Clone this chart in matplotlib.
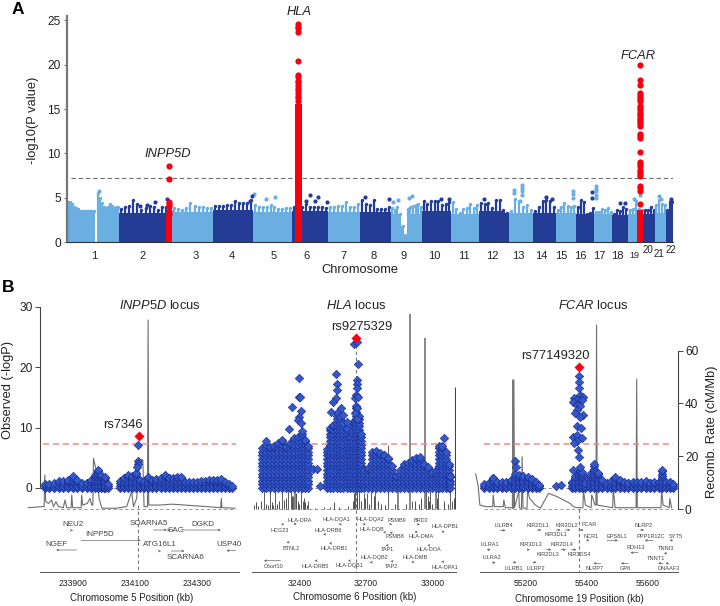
#!/usr/bin/env python3

import matplotlib
matplotlib.use('Agg')
import matplotlib.pyplot as plt
import numpy as np
from matplotlib.transforms import Affine2D, blended_transform_factory

plt.rcParams['font.family'] = ['Liberation Sans', 'DejaVu Sans']
plt.rcParams['mathtext.fontset'] = 'custom'
plt.rcParams['mathtext.rm'] = 'Liberation Sans'
plt.rcParams['mathtext.it'] = 'Liberation Sans:italic'

W, H = 720, 606

LIGHT = '#6aaee2'
DARK = '#233c96'
RED = '#f5000f'
DIAMOND = '#3358c8'
DIAMOND_EDGE = '#16248a'
GREY = '#6e6e6e'
TEXT = '#222222'

# panel A, x in scaled genome units
chrom_edges = [0, 52, 105, 146, 186, 225, 261, 293, 324, 355, 384, 412, 442, 466, 489, 509, 527, 545, 561, 576, 588, 599, 606]
chrom_ticks = [27, 76, 129, 165, 207, 240, 276, 307, 337, 367, 397, 425, 451, 474, 494, 513, 532, 550, 567, 581, 592, 604]
chrom_names = [str(i) for i in range(1, 23)]
chrom_base = [3.4, 3.3, 3.4, 3.6, 3.4, 3.5, 3.4, 3.4, 3.2, 3.5, 3.2, 3.5, 3.3, 3.3, 3.3, 3.2, 3.2, 3.1, 3.2, 3.2, 3.3, 3.4]
chrom_tops = [
    [4.5, 4.5, 4.3, 4.0, 3.8, 3.7, 3.5, 3.5, 3.5, 3.5, 3.5, 3.5, 3.5, 3.5, 0.0, 5.5, 5.0, 4.4, 3.9, 3.8, 3.9, 4.3, 4.1, 3.8, 3.9, 3.9],
    [3.7, 3.9, 4.1, 4.7, 4.3, 3.6, 3.8, 4.1, 3.9, 3.6, 3.9, 4.0, 3.9],
    [3.8, 3.7, 3.6, 3.8, 4.4, 4.1, 4.0, 3.9, 3.8, 3.8],
    [4.1, 4.1, 4.1, 4.2, 4.2, 4.6, 4.4, 4.4, 4.4, 4.7],
    [4.2, 4.0, 4.0, 3.9, 4.2, 3.9, 3.7, 3.7, 3.8, 3.8],
    [4.0, 4.0, 4.0, 4.3, 3.9, 3.9, 4.0, 4.0, 3.8],
    [3.9, 4.0, 4.1, 4.1, 4.5, 4.0, 4.0, 4.3],
    [4.7, 4.3, 4.2, 4.7, 3.7, 3.7, 3.7, 3.9],
    [3.8, 3.6, 3.9, 3.2, 1.8, 0.8, 3.7, 4.0, 4.1, 4.2, 4.3, 3.9],
    [4.6, 4.3, 4.6, 4.6, 4.6, 4.2, 4.3, 4.5],
    [4.5, 3.7, 3.3, 3.7, 3.8, 4.3, 3.8, 4.2],
    [4.4, 4.3, 4.4, 3.8, 4.7, 4.7, 3.6, 3.3],
    [3.5, 4.9, 4.6, 3.9, 4.2, 3.6],
    [3.5, 4.0, 4.6, 4.7, 4.6, 3.9],
    [3.6, 4.0, 4.4, 4.1, 3.9, 4.1],
    [4.0, 4.7, 4.5, 3.2, 3.3, 3.8],
    [3.4, 3.4, 3.7, 3.6, 3.8, 3.4],
    [3.2, 3.6, 3.5, 4.0, 3.7],
    [3.6, 3.7, 4.6, 3.7, 3.6],
    [3.6, 3.6, 3.9, 3.6],
    [4.2, 4.7, 4.3, 4.2],
    [3.6, 4.5, 4.5],
]
light_hits_x = [32, 187, 199, 208, 447, 447, 455, 455, 455, 455, 453, 506, 506, 506, 529, 529, 529, 529, 529, 345, 342, 331, 326, 567, 573, 592, 594]
light_hits_y = [5.8, 5.4, 4.9, 5.05, 5.9, 5.5, 6.4, 6.1, 5.7, 5.35, 4.6, 5.8, 5.4, 5.0, 6.3, 6.0, 5.75, 5.35, 5.0, 5.15, 4.95, 4.7, 4.5, 4.9, 5.3, 5.15, 4.8]
dark_hits_x = [100, 88, 73, 80, 185, 183, 243, 251, 248, 239, 260, 322, 298, 374, 382, 417, 479, 485, 525, 525, 558, 553, 604, 604]
dark_hits_y = [4.85, 4.5, 4.1, 4.2, 5.15, 4.6, 5.35, 5.05, 4.65, 4.6, 4.5, 4.9, 5.05, 4.9, 4.85, 4.85, 5.05, 4.9, 5.6, 4.95, 4.4, 4.4, 4.8, 4.6]

peak_x = [102, 231.3, 572.7]
peak_core = [3.0, 15.6, 3.65]
peak_width = [6.5, 6.5, 6.0]
peak_dots = [
    [8.55, 7.1, 4.5, 4.3, 4.1, 3.5, 3.2],
    [24.6, 24.3, 24.1, 23.7, 20.4, 18.8, 18.6, 18.2, 18.0, 17.7, 17.4, 17.1, 16.8, 16.5, 16.2, 15.9],
    [20.0, 18.3, 17.7, 16.8, 16.6, 16.35, 16.1, 15.9, 15.3, 15.1, 14.85, 14.6, 14.4, 14.2, 14.0, 13.8, 13.55, 13.3, 13.05,
     12.2, 12.0, 11.75, 10.2, 9.0, 8.8, 8.55, 8.1, 7.9, 7.65, 7.4, 6.3, 6.05, 5.8, 4.3],
]

# panel B, INPP5D locus
inpp_x = [233810, 233825, 233840, 233855, 233870, 233885, 233900, 233915, 233930, 233945, 233960, 233972, 233981, 233990,
          234000, 234005, 234013, 234053, 234066, 234079, 234092, 234105, 234118, 234131, 234144, 234157, 234170, 234183,
          234196, 234209, 234222, 234235, 234248, 234261, 234274, 234287, 234300, 234313, 234326, 234339, 234352, 234365,
          234378, 234391, 234404, 234415]
inpp_top = [0.7, 0.6, 0.8, 1.2, 1.1, 1.3, 2.0, 1.3, 0.8, 0.9, 1.3, 2.1, 2.9, 2.2, 1.3, 1.8, 0.7, 1.2, 1.7, 2.2, 2.0, 2.5, 1.3,
            1.2, 1.9, 1.3, 1.5, 1.6, 2.2, 1.7, 1.6, 1.9, 1.9, 1.0, 1.0, 1.0, 1.0, 1.1, 1.1, 1.3, 1.3, 1.4, 1.5, 1.0, 0.6, 0.4]
inpp_peak_x = [234112, 234110, 234112, 234108]
inpp_peak_y = [7.1, 4.4, 3.9, 3.4]
inpp_rate_x = [233757, 233803, 233808, 233810, 233813, 233822, 233832, 233838, 233846, 233854, 233870, 233875, 233881, 233895, 233897,
               233900, 233927, 233929, 233932, 233947, 233956, 233961, 233965, 233967, 233977, 233985, 233994, 234042, 234074, 234090,
               234096, 234106, 234117, 234126, 234130, 234141, 234143, 234145, 234182, 234214, 234225, 234332, 234377, 234379, 234381, 234423]
inpp_rate = [0.5, 0.9, 0.9, 12.9, 2.8, 2.1, 3.4, 0.9, 2.8, 0.9, 0.5, 3.4, 0.5, 0.5, 5.3, 0.5, 0.5, 5.3, 1.5, 2.1, 4.0, 1.5, 1.5,
             19.2, 14.0, 4.0, 0.3, 0.3, 0.9, 6.6, 0.9, 4.0, 18.6, 18.6, 0.9, 0.9, 71.6, 1.5, 1.5, 1.8, 1.8, 0.9, 0.5, 4.0, 0.5, 0.3]
inpp_genes = ['NEU2', 'INPP5D', 'NGEF', 'SOARNA5', 'SAG', 'DGKD', 'ATG16L1', 'SCARNA6', 'USP40']
inpp_gene_x = [233900, 233987, 233849, 234145, 234232, 234319, 234181, 234264, 234403]
inpp_gene_y = [524.3, 535, 545, 523.7, 530.7, 525, 545, 557.3, 545]
inpp_tail_x = [233897, 233927, 233913, 234160, 234205, 234260, 234180, 234217, 234425]
inpp_tip_x = [233900, 234119, 233847, 234203, 234215, 234377, 234184, 234260, 234396]
inpp_arrow_y = [530.3, 540.3, 550, 530, 530, 530, 551, 551, 550.7]

# panel B, HLA locus
hla_x = [32230, 32248, 32266, 32285, 32302, 32320, 32338, 32356, 32374, 32392, 32410, 32428, 32440, 32526, 32538, 32553, 32568,
         32583, 32598, 32613, 32628, 32643, 32655, 32667, 32679, 32691, 32709, 32727, 32745, 32763, 32781, 32799, 32817, 32835,
         32853, 32871, 32889, 32907, 32925, 32943, 32961, 32979, 32997, 33015, 33028, 33042, 33060, 33075, 33081]
hla_top = [6.6, 7.8, 6.8, 6.9, 7.4, 8.0, 6.8, 7.5, 8.2, 8.4, 9.5, 8.0, 6.9, 6.4, 9.9, 10.5, 12.5, 12.0, 10.8, 10.0, 8.5, 11.0, 13.5,
           12.0, 9.0, 3.0, 3.3, 6.0, 6.2, 5.8, 5.5, 5.0, 3.6, 2.0, 3.0, 3.9, 4.2, 4.6, 5.0, 5.1, 4.0, 3.4, 2.6, 3.0, 6.9, 7.0, 6.0, 4.0, 2.0]
hla_peak_x = [32400, 32397, 32403, 32365, 32408, 32400, 32395, 32406, 32354, 32463, 32481, 32493, 32565, 32568, 32568, 32565, 32553,
              32541, 32590, 32598, 32616, 32648, 32661, 32666, 32658, 32661, 32658, 32655, 32650, 32666, 32658, 32650, 32661, 33051]
hla_peak_y = [18.2, 15.1, 15.0, 13.4, 12.7, 11.8, 11.3, 10.7, 9.7, 3.1, 3.1, 0.3, 18.8, 17.3, 16.2, 14.9, 14.3,
              12.6, 13.2, 12.1, 11.0, 23.8, 24.2, 20.5, 17.9, 17.3, 16.5, 15.4, 14.9, 15.1, 13.2, 12.4, 11.5, 8.3]
hla_spike_x = [32241, 32268, 32290, 32320, 32350, 32361, 32373, 32380, 32408, 32415, 32441, 32650, 32658, 32670, 32691,
               32703, 32725, 32740, 32798, 32846, 32906, 32973, 32991, 33026, 33081]
hla_spike_rate = [8, 8, 8, 8, 8, 7, 5, 8, 8, 3, 3, 8, 8, 7, 6,
                  6, 7, 21.7, 24.2, 8, 3, 8, 7, 8, 8]
hla_noise_x = [32195, 32205, 32215, 32228, 32250, 32258, 32275, 32282, 32300, 32310, 32330, 32340, 32368, 32385, 32392, 32400, 32420,
               32428, 32436, 32470, 32510, 32540, 32555, 32580, 32620, 32640, 32645, 32662, 32680, 32697, 32712, 32735, 32755, 32770,
               32785, 32830, 32840, 32880, 32920, 32938, 32950, 32980, 32985, 33000, 33012, 33020, 33050, 33070, 33090, 33098]
hla_noise_rate = [1.5, 2.5, 1.2, 3, 2, 1.5, 2.5, 1.5, 2, 3, 3.5, 4, 5, 6, 3, 2, 4,
                  2.5, 1.5, 0.5, 0.6, 0.7, 2.5, 0.7, 1.2, 3, 6, 5, 3, 4, 2, 5, 3, 2,
                  1.5, 2, 3, 2, 3, 2, 4, 5, 3, 2, 3, 4, 3, 2, 3, 4]
hla_wide_x = [32380, 32846, 32898, 32966, 33015]
hla_wide_rate = [8, 8, 73.7, 64.6, 8]
hla_far_x = [33103]
hla_far_rate = [46.3]
hla_genes = ['HLA-DRA', 'HCG23', 'HLA-DQA1', 'HLA-DRB6', 'BTNL2', 'HLA-DRB1', 'C6orf10', 'HLA-DRB5', 'HLA-DQB1', 'HLA-DQA2', 'HLA-DQB',
             'PSMB9', 'PSMB8', 'BRD2', 'HLA-DMA', 'HLA-DPB1', 'TAP1', 'HLA-DOA', 'HLA-DQB2', 'TAP2', 'HLA-DMB', 'HLA-DPA1']
hla_gene_x = [32403, 32313, 32568, 32528, 32361, 32558, 32286, 32470, 32624, 32721, 32728, 32838, 32832, 32949, 32950, 33058, 32797,
              32985, 32737, 32815, 32922, 33058]
hla_gene_y = [521, 530, 520, 530.7, 548, 548.7, 566, 566.7, 566, 519.7, 529, 520, 537, 520, 537, 526.3, 549.7, 549.7, 557.3, 567, 557.7, 567.3]
hla_tail_x = [32379, 32323, 32583, 32517, 32352, 32544, 32316, 32479, 32629, 32691, 32787, 32809, 32817, 32934, 32929, 33046, 32799,
              32986, 32727, 32821, 32914, 33049]
hla_tip_x = [32388, 32332, 32592, 32508, 32343, 32535, 32241, 32470, 32620, 32700, 32778, 32818, 32808, 32943, 32920, 33055, 32790,
             32977, 32718, 32812, 32905, 33040]
hla_arrow_y = [524, 524.3, 524.3, 534.3, 542.3, 543.3, 560.7, 560.7, 560.7, 524.3, 532.3, 524.3, 532.7, 524.3, 532, 531.7, 545.3,
               545.3, 562.3, 561.3, 562, 561.7]

# panel B, FCAR locus
fcar_x = [55063, 55078, 55092, 55106, 55120, 55134, 55149, 55163, 55177, 55191, 55205, 55220, 55234, 55242, 55351, 55362, 55373,
          55384, 55395, 55409, 55423, 55437, 55451, 55466, 55480, 55494, 55508, 55522, 55537, 55551, 55565, 55579, 55594, 55608,
          55622, 55636, 55646, 55660, 55674, 55684]
fcar_top = [0.6, 0.9, 1.7, 1.0, 1.0, 1.0, 1.3, 2.4, 2.2, 2.0, 1.8, 1.5, 1.0, 0.5, 1.0, 2.0, 3.0, 2.6, 0.9, 2.3, 3.9, 2.5, 1.3, 0.8,
            1.2, 1.8, 1.3, 1.0, 0.9, 1.0, 1.0, 1.0, 1.2, 0.9, 1.0, 1.0, 3.0, 1.0, 1.0, 0.6]
fcar_peak_x = [55165, 55168, 55299, 55315, 55374, 55374, 55373, 55378, 55358, 55384, 55389, 55367, 55356, 55373, 55384, 55367, 55378,
               55369, 55360, 55386, 55378, 55369, 55381, 55356, 55369, 55384, 55367, 55358, 55370, 55373, 55354, 55378]
fcar_peak_y = [4.5, 3.5, 0.3, 0.5, 18.5, 17.6, 16.5, 15.4, 14.9, 14.9, 15.1, 14.6, 14.3, 14.0, 14.6, 13.8, 13.5,
               12.9, 12.4, 12.1, 11.8, 10.2, 9.9, 8.5, 8.8, 8.2, 7.7, 7.4, 6.3, 5.2, 3.0, 3.5]
fcar_rate_x = [55034, 55042, 55048, 55067, 55090, 55092, 55096, 55125, 55127, 55132, 55143, 55155, 55157, 55160, 55162, 55176, 55178,
               55181, 55185, 55187, 55190, 55203, 55205, 55212, 55231, 55247, 55274, 55302, 55345, 55356, 55367, 55387, 55389, 55395,
               55414, 55416, 55427, 55430, 55432, 55434, 55485, 55487, 55493, 55562, 55564, 55566, 55644, 55646, 55651, 55671, 55673, 55679]
fcar_rate = [13.3, 9.1, 1.5, 0.9, 0.9, 5.3, 0.9, 0.9, 3.4, 0.5, 0.5, 0.5, 48.9, 48.9, 0.5, 6.6, 0.5,
             0.3, 0.3, 19.8, 0.3, 0.3, 7.2, 4.0, 1.5, 0.3, 5.9, 4.7, 2.1, 0.9, 0.5, 0.5, 7.2, 1.5,
             0.5, 5.3, 1.5, 1.5, 69.7, 1.5, 0.5, 7.8, 0.5, 0.5, 49.2, 0.5, 0.5, 7.2, 1.5, 0.5, 4.0, 0.5]
fcar_genes = ['LILRB4', 'KIR2DL1', 'KIR3DL2', 'KIR3DL1', 'FCAR', 'NCR1', 'EPS8L1', 'NLRP2', 'PPP1R12C', 'SYT5', 'LILRA1', 'KIR3DL3',
              'KIR2DL4', 'RDH13', 'TNNI3', 'LILRA2', 'KIR2DL3', 'KIR3DS4', 'TNNT1', 'LILRB1', 'LILRP2', 'NLRP7', 'GP6', 'DNAAF3']
fcar_gene_x = [55127, 55239, 55334, 55298, 55407, 55413, 55499, 55587, 55610, 55692, 55080, 55216, 55318, 55561, 55660, 55086, 55272,
               55374, 55628, 55160, 55232, 55427, 55528, 55670]
fcar_gene_y = [525.7, 525.3, 525.3, 535, 525, 536.7, 536.7, 525.3, 536.7, 536.7, 544.3, 544.3, 544.3, 547.7, 549, 557.3, 554.3, 554.7,
               558.7, 568.7, 568.7, 568.7, 568.7, 568.7]
fcar_tail_x = [55114, 55236, 55329, 55299, 55373, 55400, 55466, 55575, 55619, 55681, 55072, 55205, 55315, 55569, 55662, 55089, 55267,
               55349, 55651, 55157, 55222, 55446, 55537, 55670]
fcar_tip_x = [55132, 55250, 55345, 55313, 55389, 55408, 55502, 55588, 55591, 55673, 55083, 55212, 55331, 55544, 55654, 55099, 55283,
              55365, 55635, 55168, 55234, 55422, 55513, 55659]
fcar_arrow_y = [530.3, 530, 530, 530, 530, 540.3, 540.3, 530, 540.3, 540.3, 549.7, 549.7, 549.7, 552.7, 553.3, 562.7, 549.7, 549.7,
                563.3, 562.3, 562.3, 563.3, 563.3, 563.3]

band_levels = [0, 0.4, 0.8, 1.2, 1.6, 2.0, 2.4, 2.8, 3.2, 3.6]
block_levels = [0, 0.6, 1.2, 1.8, 2.4, 3.0, 3.6, 4.2, 4.8, 5.4, 6.0, 6.6, 7.2, 7.8, 8.4, 9.0, 9.6, 10.2, 10.8, 11.4, 12.0, 12.6, 13.2]

fig = plt.figure(figsize=(W / 100, H / 100), dpi=100)
px_trans = Affine2D().scale(1, -1).translate(0, H)


def px_axes(left, top, right, bottom):
    return fig.add_axes([left / W, 1 - bottom / H, (right - left) / W, (bottom - top) / H])


def label(x, y, s, size=9.3, **kwargs):
    kwargs.setdefault('color', TEXT)
    fig.text(x / W, 1 - y / H, s, fontsize=size, ha='center', va='center', **kwargs)


def draw_manhattan():
    ax = px_axes(67, 16, 673, 242)
    ax.set_xlim(0, chrom_edges[-1])
    ax.set_ylim(0, 25.5)
    ax.patch.set_visible(False)

    for i, tops in enumerate(chrom_tops):
        color = DARK if i % 2 else LIGHT
        edges = np.linspace(chrom_edges[i], chrom_edges[i + 1], len(tops) + 1)
        centers = (edges[:-1] + edges[1:]) / 2
        ax.stairs(np.minimum(tops, chrom_base[i]), edges, fill=True, color=color, linewidth=0)
        # fringe above the solid part
        ax.vlines(centers, chrom_base[i] * 0.9, np.maximum(tops, chrom_base[i] * 0.9), color=color, lw=1.6)
        ax.scatter(centers[np.array(tops) > 0], np.array(tops)[np.array(tops) > 0], s=6, color=color, linewidths=0)
    ax.scatter(light_hits_x, light_hits_y, s=9, color=LIGHT, linewidths=0, clip_on=False)
    ax.scatter(dark_hits_x, dark_hits_y, s=9, color=DARK, linewidths=0, clip_on=False)

    ax.plot([4, chrom_edges[-1]], [7.27, 7.27], color=GREY, lw=0.8, dashes=(4, 2.5))

    for x, core, width, dots in zip(peak_x, peak_core, peak_width, peak_dots):
        ax.bar(x, core, width=width, color=RED, linewidth=0, zorder=4)
        ax.scatter([x] * len(dots), dots, s=20, color=RED, linewidths=0, clip_on=False, zorder=4)

    ax.set_yticks([0, 5, 10, 15, 20, 25])
    ax.set_xticks(chrom_ticks, chrom_names)
    ax.tick_params(axis='y', labelsize=8.6, length=2.5, width=0.8, color=GREY, labelcolor=TEXT, pad=2)
    ax.tick_params(axis='x', labelsize=8, length=0, pad=6.5, labelcolor=TEXT)
    for i, tick in enumerate(ax.xaxis.get_major_ticks()):
        if i == 18:
            tick.label1.set_fontsize(6.5)
        if i >= 19:
            tick.label1.set_fontsize(7)
        if i in (19, 21):
            tick.set_pad(2)
        if i == 20:
            tick.set_pad(5)
    for side in ('top', 'right'):
        ax.spines[side].set_visible(False)
    ax.spines['left'].set_color('#777777')
    ax.spines['left'].set_linewidth(1.6)
    ax.spines['bottom'].set_color('#333333')
    ax.spines['bottom'].set_linewidth(0.8)

    label(360, 270, 'Chromosome')
    label(33, 120, '-log10(P value)', rotation=90)
    label(168, 154, 'INPP5D', style='italic')
    label(299, 12, 'HLA', style='italic')
    label(637.7, 55.7, 'FCAR', style='italic')
    label(18, 9, 'A', size=12.5, weight='bold', color='black')
    label(8, 288, 'B', size=12.5, weight='bold', color='black')


def draw_snps(ax, col_x, col_top, levels, extra_x, extra_y, lead_x, lead_y):
    xs, ys = [], []
    for x, top in zip(col_x, col_top):
        for level in levels:
            if level < top:
                xs.append(x)
                ys.append(level)
        xs.append(x)
        ys.append(top)
    xs = xs + extra_x
    ys = ys + extra_y
    ax.scatter(xs, ys, marker='D', s=19, color=DIAMOND, edgecolors=DIAMOND_EDGE, linewidths=0.4, zorder=3, clip_on=False)
    ax.scatter([lead_x], [lead_y], marker='D', s=26, color='#fa0010', linewidths=0, zorder=4)


def locus_axes(left, right, x_left, x_right, ticks, line_from, line_to):
    ax = px_axes(left, 300, right, 572)
    ax.set_xlim(x_left, x_right)
    ax.set_ylim((488 - 572) / 6.04, (488 - 300) / 6.04)
    ax.set_xticks(ticks, [str(t) for t in ticks])
    ax.tick_params(axis='x', labelsize=6.2, length=0, pad=5, labelcolor=TEXT)
    ax.set_yticks([])
    for side in ('top', 'right', 'left'):
        ax.spines[side].set_visible(False)
    ax.spines['bottom'].set_color('#555555')
    ax.spines['bottom'].set_linewidth(0.7)
    ax.spines['bottom'].set_bounds(line_from, line_to)
    ax.patch.set_visible(False)

    rate_ax = ax.twinx()
    rate_ax.set_ylim((509 - 572) / 2.64, (509 - 300) / 2.64)
    rate_ax.set_yticks([])
    rate_ax.patch.set_visible(False)
    for spine in rate_ax.spines.values():
        spine.set_visible(False)
    ax.set_zorder(rate_ax.get_zorder() + 1)
    return ax, rate_ax


def draw_genes(ax, names, gene_x, gene_y, tail_x, tip_x, arrow_y, size):
    trans = blended_transform_factory(ax.transData, px_trans)
    for name, x, y, x0, x1, ya in zip(names, gene_x, gene_y, tail_x, tip_x, arrow_y):
        ax.text(x, y, name, transform=trans, fontsize=size, ha='center', va='center', color='#444444', clip_on=False)
        ax.annotate('', xy=(x1, ya), xytext=(x0, ya), xycoords=trans, textcoords=trans,
                    arrowprops=dict(arrowstyle='->', lw=0.4, color='#444444', mutation_scale=3.5, shrinkA=0, shrinkB=0))


def draw_reference_lines(ax, rate_ax, x0, x1, lead_x, lead_top):
    ax.plot([x0, x1], [7.3, 7.3], color='#f08a84', lw=1.1, dashes=(4, 2.5), zorder=2)
    ax.plot([x0, x1], [0, 0], color='#888888', lw=0.6, dashes=(4, 3), zorder=1)
    rate_ax.plot([x0, x1], [0, 0], color='#888888', lw=0.6, dashes=(4, 3))
    trans = blended_transform_factory(ax.transData, px_trans)
    ax.plot([lead_x, lead_x], [lead_top, 572], transform=trans, color='#777777', lw=0.8, dashes=(3, 2.5), zorder=1)


def draw_inpp5d():
    ax, rate_ax = locus_axes(39.5, 239, 233793, 234436, [233900, 234100, 234300], 233793, 234436)
    draw_reference_lines(ax, rate_ax, 233805, 234426, 234112, 505)
    rate_ax.plot(inpp_rate_x, inpp_rate, color=GREY, lw=0.8, clip_on=False)
    draw_snps(ax, inpp_x, inpp_top, band_levels, inpp_peak_x, inpp_peak_y, 234113, 8.6)
    draw_genes(ax, inpp_genes, inpp_gene_x, inpp_gene_y, inpp_tail_x, inpp_tip_x, inpp_arrow_y, 5.8)

    ax.spines['left'].set_visible(True)
    ax.spines['left'].set_bounds(0, 30)
    ax.spines['left'].set_color('#444444')
    ax.spines['left'].set_linewidth(0.8)
    ax.set_yticks([0, 10, 20, 30])
    ax.tick_params(axis='y', labelsize=8.6, length=3.5, width=0.7, color='#444444', labelcolor=TEXT, pad=1.5)

    label(160, 305.7, r'$\mathit{INPP5D}$ locus')
    label(123, 425, 'rs7346')
    label(8, 390, 'Observed (-logP)', rotation=90)
    label(131.7, 598, 'Chromosome 5 Position (kb)', size=7)


def draw_hla():
    ax, rate_ax = locus_axes(252, 456, 32187, 33106, [32400, 32700, 33000], 32187, 33106)
    draw_reference_lines(ax, rate_ax, 32230, 33083, 32654, 345)
    rate_ax.vlines(hla_noise_x, 0, hla_noise_rate, color='#333333', lw=0.6)
    rate_ax.vlines(hla_spike_x, 0, hla_spike_rate, color='#444444', lw=0.6)
    rate_ax.vlines(hla_wide_x, 0, hla_wide_rate, color='#888888', lw=1.4)
    rate_ax.vlines(hla_far_x, 0, hla_far_rate, color='#444444', lw=0.8)
    draw_snps(ax, hla_x, hla_top, block_levels, hla_peak_x, hla_peak_y, 32654, 24.9)
    draw_genes(ax, hla_genes, hla_gene_x, hla_gene_y, hla_tail_x, hla_tip_x, hla_arrow_y, 4)

    label(356, 305.7, r'$\mathit{HLA}$ locus')
    label(362, 326.7, 'rs9275329')
    label(355, 597, 'Chromosome 6 Position (kb)', size=7)


def draw_fcar():
    ax, rate_ax = locus_axes(475, 678, 55032, 55700, [55200, 55400, 55600], 55047, 55700)
    draw_reference_lines(ax, rate_ax, 55061, 55684, 55374, 509)
    rate_ax.plot(fcar_rate_x, fcar_rate, color=GREY, lw=0.8, clip_on=False)
    rate_ax.vlines([55158], 0, [48.9], color='#777777', lw=1.4)
    draw_snps(ax, fcar_x, fcar_top, band_levels, fcar_peak_x, fcar_peak_y, 55374, 20.0)
    draw_genes(ax, fcar_genes, fcar_gene_x, fcar_gene_y, fcar_tail_x, fcar_tip_x, fcar_arrow_y, 4.1)

    rate_ax.spines['right'].set_visible(True)
    rate_ax.spines['right'].set_bounds(0, 60)
    rate_ax.spines['right'].set_color('#444444')
    rate_ax.spines['right'].set_linewidth(0.8)
    rate_ax.set_yticks([0, 20, 40, 60])
    rate_ax.tick_params(axis='y', labelsize=8.6, length=3.5, width=0.7, color='#444444', labelcolor=TEXT, pad=1.5)

    label(593, 305.7, r'$\mathit{FCAR}$ locus')
    label(555.7, 355.7, 'rs77149320')
    label(712, 432, 'Recomb. Rate (cM/Mb)', rotation=90)
    label(579, 599, 'Chromosome 19 Position (kb)', size=7)


draw_manhattan()
draw_inpp5d()
draw_hla()
draw_fcar()

fig.savefig('out.png', dpi=100)
